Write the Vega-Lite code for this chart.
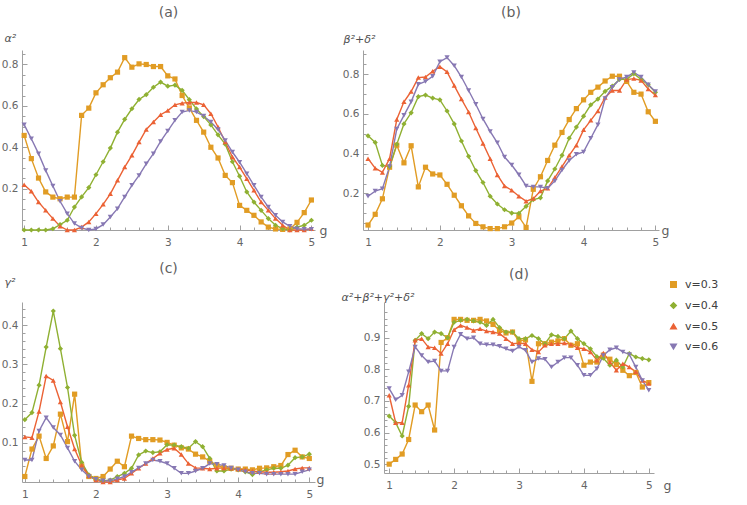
{
  "$schema": "https://vega.github.io/schema/vega-lite/v6.json",
  "background": "white",
  "padding": {"left": 1, "top": 5, "right": 0, "bottom": 0},
  "datasets": {
    "a": [
      {"v":"v=0.3","g":1,"y":0.457},{"v":"v=0.3","g":1.1,"y":0.345},{"v":"v=0.3","g":1.2,"y":0.251},{"v":"v=0.3","g":1.3,"y":0.184},{"v":"v=0.3","g":1.4,"y":0.159},{"v":"v=0.3","g":1.5,"y":0.151},{"v":"v=0.3","g":1.6,"y":0.159},{"v":"v=0.3","g":1.7,"y":0.159},{"v":"v=0.3","g":1.8,"y":0.554},{"v":"v=0.3","g":1.9,"y":0.589},
      {"v":"v=0.3","g":2,"y":0.663},{"v":"v=0.3","g":2.1,"y":0.702},{"v":"v=0.3","g":2.2,"y":0.736},{"v":"v=0.3","g":2.3,"y":0.763},{"v":"v=0.3","g":2.4,"y":0.833},{"v":"v=0.3","g":2.5,"y":0.787},{"v":"v=0.3","g":2.6,"y":0.803},{"v":"v=0.3","g":2.7,"y":0.8},{"v":"v=0.3","g":2.8,"y":0.79},{"v":"v=0.3","g":2.9,"y":0.79},
      {"v":"v=0.3","g":3,"y":0.745},{"v":"v=0.3","g":3.1,"y":0.73},{"v":"v=0.3","g":3.2,"y":0.65},{"v":"v=0.3","g":3.3,"y":0.59},{"v":"v=0.3","g":3.4,"y":0.53},{"v":"v=0.3","g":3.5,"y":0.473},{"v":"v=0.3","g":3.6,"y":0.4},{"v":"v=0.3","g":3.7,"y":0.348},{"v":"v=0.3","g":3.8,"y":0.264},{"v":"v=0.3","g":3.9,"y":0.229},
      {"v":"v=0.3","g":4,"y":0.119},{"v":"v=0.3","g":4.1,"y":0.095},{"v":"v=0.3","g":4.2,"y":0.071},{"v":"v=0.3","g":4.3,"y":0.039},{"v":"v=0.3","g":4.4,"y":0.014},{"v":"v=0.3","g":4.5,"y":0.005},{"v":"v=0.3","g":4.6,"y":0.003},{"v":"v=0.3","g":4.7,"y":0.005},{"v":"v=0.3","g":4.8,"y":0.037},{"v":"v=0.3","g":4.9,"y":0.084},{"v":"v=0.3","g":5,"y":0.145},
      {"v":"v=0.4","g":1,"y":0},{"v":"v=0.4","g":1.1,"y":0},{"v":"v=0.4","g":1.2,"y":0},{"v":"v=0.4","g":1.3,"y":0},{"v":"v=0.4","g":1.4,"y":0.006},{"v":"v=0.4","g":1.5,"y":0.026},{"v":"v=0.4","g":1.6,"y":0.047},{"v":"v=0.4","g":1.7,"y":0.111},{"v":"v=0.4","g":1.8,"y":0.16},{"v":"v=0.4","g":1.9,"y":0.205},
      {"v":"v=0.4","g":2,"y":0.267},{"v":"v=0.4","g":2.1,"y":0.33},{"v":"v=0.4","g":2.2,"y":0.396},{"v":"v=0.4","g":2.3,"y":0.473},{"v":"v=0.4","g":2.4,"y":0.535},{"v":"v=0.4","g":2.5,"y":0.586},{"v":"v=0.4","g":2.6,"y":0.631},{"v":"v=0.4","g":2.7,"y":0.654},{"v":"v=0.4","g":2.8,"y":0.69},{"v":"v=0.4","g":2.9,"y":0.715},
      {"v":"v=0.4","g":3,"y":0.695},{"v":"v=0.4","g":3.1,"y":0.7},{"v":"v=0.4","g":3.2,"y":0.675},{"v":"v=0.4","g":3.3,"y":0.63},{"v":"v=0.4","g":3.4,"y":0.585},{"v":"v=0.4","g":3.5,"y":0.548},{"v":"v=0.4","g":3.6,"y":0.508},{"v":"v=0.4","g":3.7,"y":0.46},{"v":"v=0.4","g":3.8,"y":0.415},{"v":"v=0.4","g":3.9,"y":0.33},
      {"v":"v=0.4","g":4,"y":0.26},{"v":"v=0.4","g":4.1,"y":0.184},{"v":"v=0.4","g":4.2,"y":0.135},{"v":"v=0.4","g":4.3,"y":0.095},{"v":"v=0.4","g":4.4,"y":0.055},{"v":"v=0.4","g":4.5,"y":0.023},{"v":"v=0.4","g":4.6,"y":0.006},{"v":"v=0.4","g":4.7,"y":0},{"v":"v=0.4","g":4.8,"y":0.014},{"v":"v=0.4","g":4.9,"y":0.023},{"v":"v=0.4","g":5,"y":0.047},
      {"v":"v=0.5","g":1,"y":0.219},{"v":"v=0.5","g":1.1,"y":0.187},{"v":"v=0.5","g":1.2,"y":0.135},{"v":"v=0.5","g":1.3,"y":0.095},{"v":"v=0.5","g":1.4,"y":0.055},{"v":"v=0.5","g":1.5,"y":0.018},{"v":"v=0.5","g":1.6,"y":0},{"v":"v=0.5","g":1.7,"y":0},{"v":"v=0.5","g":1.8,"y":0.014},{"v":"v=0.5","g":1.9,"y":0.039},
      {"v":"v=0.5","g":2,"y":0.079},{"v":"v=0.5","g":2.1,"y":0.124},{"v":"v=0.5","g":2.2,"y":0.175},{"v":"v=0.5","g":2.3,"y":0.24},{"v":"v=0.5","g":2.4,"y":0.304},{"v":"v=0.5","g":2.5,"y":0.361},{"v":"v=0.5","g":2.6,"y":0.425},{"v":"v=0.5","g":2.7,"y":0.486},{"v":"v=0.5","g":2.8,"y":0.522},{"v":"v=0.5","g":2.9,"y":0.557},
      {"v":"v=0.5","g":3,"y":0.577},{"v":"v=0.5","g":3.1,"y":0.605},{"v":"v=0.5","g":3.2,"y":0.613},{"v":"v=0.5","g":3.3,"y":0.616},{"v":"v=0.5","g":3.4,"y":0.616},{"v":"v=0.5","g":3.5,"y":0.605},{"v":"v=0.5","g":3.6,"y":0.562},{"v":"v=0.5","g":3.7,"y":0.498},{"v":"v=0.5","g":3.8,"y":0.425},{"v":"v=0.5","g":3.9,"y":0.353},
      {"v":"v=0.5","g":4,"y":0.304},{"v":"v=0.5","g":4.1,"y":0.248},{"v":"v=0.5","g":4.2,"y":0.192},{"v":"v=0.5","g":4.3,"y":0.135},{"v":"v=0.5","g":4.4,"y":0.095},{"v":"v=0.5","g":4.5,"y":0.055},{"v":"v=0.5","g":4.6,"y":0.023},{"v":"v=0.5","g":4.7,"y":0},{"v":"v=0.5","g":4.8,"y":0},{"v":"v=0.5","g":4.9,"y":0},{"v":"v=0.5","g":5,"y":0.006},
      {"v":"v=0.6","g":1,"y":0.509},{"v":"v=0.6","g":1.1,"y":0.441},{"v":"v=0.6","g":1.2,"y":0.369},{"v":"v=0.6","g":1.3,"y":0.288},{"v":"v=0.6","g":1.4,"y":0.213},{"v":"v=0.6","g":1.5,"y":0.139},{"v":"v=0.6","g":1.6,"y":0.079},{"v":"v=0.6","g":1.7,"y":0.031},{"v":"v=0.6","g":1.8,"y":0.01},{"v":"v=0.6","g":1.9,"y":0},
      {"v":"v=0.6","g":2,"y":0.005},{"v":"v=0.6","g":2.1,"y":0.026},{"v":"v=0.6","g":2.2,"y":0.063},{"v":"v=0.6","g":2.3,"y":0.103},{"v":"v=0.6","g":2.4,"y":0.16},{"v":"v=0.6","g":2.5,"y":0.216},{"v":"v=0.6","g":2.6,"y":0.264},{"v":"v=0.6","g":2.7,"y":0.32},{"v":"v=0.6","g":2.8,"y":0.369},{"v":"v=0.6","g":2.9,"y":0.428},
      {"v":"v=0.6","g":3,"y":0.479},{"v":"v=0.6","g":3.1,"y":0.53},{"v":"v=0.6","g":3.2,"y":0.57},{"v":"v=0.6","g":3.3,"y":0.578},{"v":"v=0.6","g":3.4,"y":0.57},{"v":"v=0.6","g":3.5,"y":0.551},{"v":"v=0.6","g":3.6,"y":0.522},{"v":"v=0.6","g":3.7,"y":0.486},{"v":"v=0.6","g":3.8,"y":0.433},{"v":"v=0.6","g":3.9,"y":0.377},
      {"v":"v=0.6","g":4,"y":0.328},{"v":"v=0.6","g":4.1,"y":0.272},{"v":"v=0.6","g":4.2,"y":0.216},{"v":"v=0.6","g":4.3,"y":0.16},{"v":"v=0.6","g":4.4,"y":0.111},{"v":"v=0.6","g":4.5,"y":0.071},{"v":"v=0.6","g":4.6,"y":0.039},{"v":"v=0.6","g":4.7,"y":0.018},{"v":"v=0.6","g":4.8,"y":0.006},{"v":"v=0.6","g":4.9,"y":0.004},{"v":"v=0.6","g":5,"y":0.004}
    ],
    "b": [
      {"v":"v=0.3","g":1,"y":0.041},{"v":"v=0.3","g":1.1,"y":0.095},{"v":"v=0.3","g":1.2,"y":0.173},{"v":"v=0.3","g":1.3,"y":0.332},{"v":"v=0.3","g":1.4,"y":0.443},{"v":"v=0.3","g":1.5,"y":0.354},{"v":"v=0.3","g":1.6,"y":0.44},{"v":"v=0.3","g":1.7,"y":0.233},{"v":"v=0.3","g":1.8,"y":0.332},{"v":"v=0.3","g":1.9,"y":0.298},
      {"v":"v=0.3","g":2,"y":0.293},{"v":"v=0.3","g":2.1,"y":0.246},{"v":"v=0.3","g":2.2,"y":0.191},{"v":"v=0.3","g":2.3,"y":0.138},{"v":"v=0.3","g":2.4,"y":0.087},{"v":"v=0.3","g":2.5,"y":0.049},{"v":"v=0.3","g":2.6,"y":0.032},{"v":"v=0.3","g":2.7,"y":0.023},{"v":"v=0.3","g":2.8,"y":0.023},{"v":"v=0.3","g":2.9,"y":0.032},
      {"v":"v=0.3","g":3,"y":0.051},{"v":"v=0.3","g":3.1,"y":0.083},{"v":"v=0.3","g":3.2,"y":0.029},{"v":"v=0.3","g":3.3,"y":0.221},{"v":"v=0.3","g":3.4,"y":0.284},{"v":"v=0.3","g":3.5,"y":0.366},{"v":"v=0.3","g":3.6,"y":0.443},{"v":"v=0.3","g":3.7,"y":0.507},{"v":"v=0.3","g":3.8,"y":0.572},{"v":"v=0.3","g":3.9,"y":0.627},
      {"v":"v=0.3","g":4,"y":0.671},{"v":"v=0.3","g":4.1,"y":0.709},{"v":"v=0.3","g":4.2,"y":0.735},{"v":"v=0.3","g":4.3,"y":0.766},{"v":"v=0.3","g":4.4,"y":0.79},{"v":"v=0.3","g":4.5,"y":0.79},{"v":"v=0.3","g":4.6,"y":0.764},{"v":"v=0.3","g":4.7,"y":0.709},{"v":"v=0.3","g":4.8,"y":0.7},{"v":"v=0.3","g":4.9,"y":0.611},{"v":"v=0.3","g":5,"y":0.563},
      {"v":"v=0.4","g":1,"y":0.49},{"v":"v=0.4","g":1.1,"y":0.457},{"v":"v=0.4","g":1.2,"y":0.341},{"v":"v=0.4","g":1.3,"y":0.335},{"v":"v=0.4","g":1.4,"y":0.447},{"v":"v=0.4","g":1.5,"y":0.55},{"v":"v=0.4","g":1.6,"y":0.606},{"v":"v=0.4","g":1.7,"y":0.687},{"v":"v=0.4","g":1.8,"y":0.695},{"v":"v=0.4","g":1.9,"y":0.68},
      {"v":"v=0.4","g":2,"y":0.671},{"v":"v=0.4","g":2.1,"y":0.615},{"v":"v=0.4","g":2.2,"y":0.55},{"v":"v=0.4","g":2.3,"y":0.464},{"v":"v=0.4","g":2.4,"y":0.387},{"v":"v=0.4","g":2.5,"y":0.315},{"v":"v=0.4","g":2.6,"y":0.255},{"v":"v=0.4","g":2.7,"y":0.186},{"v":"v=0.4","g":2.8,"y":0.147},{"v":"v=0.4","g":2.9,"y":0.118},
      {"v":"v=0.4","g":3,"y":0.101},{"v":"v=0.4","g":3.1,"y":0.1},{"v":"v=0.4","g":3.2,"y":0.135},{"v":"v=0.4","g":3.3,"y":0.169},{"v":"v=0.4","g":3.4,"y":0.178},{"v":"v=0.4","g":3.5,"y":0.263},{"v":"v=0.4","g":3.6,"y":0.323},{"v":"v=0.4","g":3.7,"y":0.392},{"v":"v=0.4","g":3.8,"y":0.478},{"v":"v=0.4","g":3.9,"y":0.534},
      {"v":"v=0.4","g":4,"y":0.589},{"v":"v=0.4","g":4.1,"y":0.646},{"v":"v=0.4","g":4.2,"y":0.675},{"v":"v=0.4","g":4.3,"y":0.714},{"v":"v=0.4","g":4.4,"y":0.74},{"v":"v=0.4","g":4.5,"y":0.774},{"v":"v=0.4","g":4.6,"y":0.774},{"v":"v=0.4","g":4.7,"y":0.803},{"v":"v=0.4","g":4.8,"y":0.774},{"v":"v=0.4","g":4.9,"y":0.747},{"v":"v=0.4","g":5,"y":0.709},
      {"v":"v=0.5","g":1,"y":0.375},{"v":"v=0.5","g":1.1,"y":0.327},{"v":"v=0.5","g":1.2,"y":0.306},{"v":"v=0.5","g":1.3,"y":0.375},{"v":"v=0.5","g":1.4,"y":0.572},{"v":"v=0.5","g":1.5,"y":0.661},{"v":"v=0.5","g":1.6,"y":0.713},{"v":"v=0.5","g":1.7,"y":0.783},{"v":"v=0.5","g":1.8,"y":0.786},{"v":"v=0.5","g":1.9,"y":0.815},
      {"v":"v=0.5","g":2,"y":0.838},{"v":"v=0.5","g":2.1,"y":0.812},{"v":"v=0.5","g":2.2,"y":0.743},{"v":"v=0.5","g":2.3,"y":0.675},{"v":"v=0.5","g":2.4,"y":0.61},{"v":"v=0.5","g":2.5,"y":0.529},{"v":"v=0.5","g":2.6,"y":0.452},{"v":"v=0.5","g":2.7,"y":0.375},{"v":"v=0.5","g":2.8,"y":0.293},{"v":"v=0.5","g":2.9,"y":0.238},
      {"v":"v=0.5","g":3,"y":0.216},{"v":"v=0.5","g":3.1,"y":0.186},{"v":"v=0.5","g":3.2,"y":0.161},{"v":"v=0.5","g":3.3,"y":0.174},{"v":"v=0.5","g":3.4,"y":0.212},{"v":"v=0.5","g":3.5,"y":0.226},{"v":"v=0.5","g":3.6,"y":0.28},{"v":"v=0.5","g":3.7,"y":0.335},{"v":"v=0.5","g":3.8,"y":0.392},{"v":"v=0.5","g":3.9,"y":0.443},
      {"v":"v=0.5","g":4,"y":0.52},{"v":"v=0.5","g":4.1,"y":0.568},{"v":"v=0.5","g":4.2,"y":0.615},{"v":"v=0.5","g":4.3,"y":0.683},{"v":"v=0.5","g":4.4,"y":0.718},{"v":"v=0.5","g":4.5,"y":0.718},{"v":"v=0.5","g":4.6,"y":0.773},{"v":"v=0.5","g":4.7,"y":0.778},{"v":"v=0.5","g":4.8,"y":0.769},{"v":"v=0.5","g":4.9,"y":0.726},{"v":"v=0.5","g":5,"y":0.695},
      {"v":"v=0.6","g":1,"y":0.186},{"v":"v=0.6","g":1.1,"y":0.212},{"v":"v=0.6","g":1.2,"y":0.224},{"v":"v=0.6","g":1.3,"y":0.335},{"v":"v=0.6","g":1.4,"y":0.524},{"v":"v=0.6","g":1.5,"y":0.593},{"v":"v=0.6","g":1.6,"y":0.661},{"v":"v=0.6","g":1.7,"y":0.749},{"v":"v=0.6","g":1.8,"y":0.764},{"v":"v=0.6","g":1.9,"y":0.79},
      {"v":"v=0.6","g":2,"y":0.863},{"v":"v=0.6","g":2.1,"y":0.884},{"v":"v=0.6","g":2.2,"y":0.843},{"v":"v=0.6","g":2.3,"y":0.786},{"v":"v=0.6","g":2.4,"y":0.718},{"v":"v=0.6","g":2.5,"y":0.649},{"v":"v=0.6","g":2.6,"y":0.575},{"v":"v=0.6","g":2.7,"y":0.512},{"v":"v=0.6","g":2.8,"y":0.455},{"v":"v=0.6","g":2.9,"y":0.383},
      {"v":"v=0.6","g":3,"y":0.343},{"v":"v=0.6","g":3.1,"y":0.294},{"v":"v=0.6","g":3.2,"y":0.238},{"v":"v=0.6","g":3.3,"y":0.233},{"v":"v=0.6","g":3.4,"y":0.233},{"v":"v=0.6","g":3.5,"y":0.226},{"v":"v=0.6","g":3.6,"y":0.263},{"v":"v=0.6","g":3.7,"y":0.318},{"v":"v=0.6","g":3.8,"y":0.366},{"v":"v=0.6","g":3.9,"y":0.397},
      {"v":"v=0.6","g":4,"y":0.409},{"v":"v=0.6","g":4.1,"y":0.478},{"v":"v=0.6","g":4.2,"y":0.546},{"v":"v=0.6","g":4.3,"y":0.678},{"v":"v=0.6","g":4.4,"y":0.735},{"v":"v=0.6","g":4.5,"y":0.774},{"v":"v=0.6","g":4.6,"y":0.786},{"v":"v=0.6","g":4.7,"y":0.809},{"v":"v=0.6","g":4.8,"y":0.786},{"v":"v=0.6","g":4.9,"y":0.747},{"v":"v=0.6","g":5,"y":0.713}
    ],
    "c": [
      {"v":"v=0.3","g":1,"y":0.014},{"v":"v=0.3","g":1.1,"y":0.084},{"v":"v=0.3","g":1.2,"y":0.117},{"v":"v=0.3","g":1.3,"y":0.06},{"v":"v=0.3","g":1.4,"y":0.092},{"v":"v=0.3","g":1.5,"y":0.173},{"v":"v=0.3","g":1.6,"y":0.103},{"v":"v=0.3","g":1.7,"y":0.224},{"v":"v=0.3","g":1.8,"y":0.041},{"v":"v=0.3","g":1.9,"y":0.014},
      {"v":"v=0.3","g":2,"y":0.009},{"v":"v=0.3","g":2.1,"y":0.014},{"v":"v=0.3","g":2.2,"y":0.033},{"v":"v=0.3","g":2.3,"y":0.053},{"v":"v=0.3","g":2.4,"y":0.039},{"v":"v=0.3","g":2.5,"y":0.117},{"v":"v=0.3","g":2.6,"y":0.111},{"v":"v=0.3","g":2.7,"y":0.108},{"v":"v=0.3","g":2.8,"y":0.108},{"v":"v=0.3","g":2.9,"y":0.107},
      {"v":"v=0.3","g":3,"y":0.101},{"v":"v=0.3","g":3.1,"y":0.094},{"v":"v=0.3","g":3.2,"y":0.087},{"v":"v=0.3","g":3.3,"y":0.084},{"v":"v=0.3","g":3.4,"y":0.071},{"v":"v=0.3","g":3.5,"y":0.064},{"v":"v=0.3","g":3.6,"y":0.053},{"v":"v=0.3","g":3.7,"y":0.043},{"v":"v=0.3","g":3.8,"y":0.036},{"v":"v=0.3","g":3.9,"y":0.035},
      {"v":"v=0.3","g":4,"y":0.033},{"v":"v=0.3","g":4.1,"y":0.033},{"v":"v=0.3","g":4.2,"y":0.031},{"v":"v=0.3","g":4.3,"y":0.035},{"v":"v=0.3","g":4.4,"y":0.036},{"v":"v=0.3","g":4.5,"y":0.039},{"v":"v=0.3","g":4.6,"y":0.042},{"v":"v=0.3","g":4.7,"y":0.07},{"v":"v=0.3","g":4.8,"y":0.081},{"v":"v=0.3","g":4.9,"y":0.064},{"v":"v=0.3","g":5,"y":0.06},
      {"v":"v=0.4","g":1,"y":0.159},{"v":"v=0.4","g":1.1,"y":0.177},{"v":"v=0.4","g":1.2,"y":0.247},{"v":"v=0.4","g":1.3,"y":0.344},{"v":"v=0.4","g":1.4,"y":0.436},{"v":"v=0.4","g":1.5,"y":0.34},{"v":"v=0.4","g":1.6,"y":0.241},{"v":"v=0.4","g":1.7,"y":0.119},{"v":"v=0.4","g":1.8,"y":0.05},{"v":"v=0.4","g":1.9,"y":0.018},
      {"v":"v=0.4","g":2,"y":0.008},{"v":"v=0.4","g":2.1,"y":0.003},{"v":"v=0.4","g":2.2,"y":0.005},{"v":"v=0.4","g":2.3,"y":0.014},{"v":"v=0.4","g":2.4,"y":0.022},{"v":"v=0.4","g":2.5,"y":0.035},{"v":"v=0.4","g":2.6,"y":0.069},{"v":"v=0.4","g":2.7,"y":0.079},{"v":"v=0.4","g":2.8,"y":0.075},{"v":"v=0.4","g":2.9,"y":0.077},
      {"v":"v=0.4","g":3,"y":0.095},{"v":"v=0.4","g":3.1,"y":0.094},{"v":"v=0.4","g":3.2,"y":0.09},{"v":"v=0.4","g":3.3,"y":0.086},{"v":"v=0.4","g":3.4,"y":0.103},{"v":"v=0.4","g":3.5,"y":0.09},{"v":"v=0.4","g":3.6,"y":0.06},{"v":"v=0.4","g":3.7,"y":0.028},{"v":"v=0.4","g":3.8,"y":0.028},{"v":"v=0.4","g":3.9,"y":0.033},
      {"v":"v=0.4","g":4,"y":0.031},{"v":"v=0.4","g":4.1,"y":0.026},{"v":"v=0.4","g":4.2,"y":0.019},{"v":"v=0.4","g":4.3,"y":0.026},{"v":"v=0.4","g":4.4,"y":0.031},{"v":"v=0.4","g":4.5,"y":0.035},{"v":"v=0.4","g":4.6,"y":0.035},{"v":"v=0.4","g":4.7,"y":0.043},{"v":"v=0.4","g":4.8,"y":0.062},{"v":"v=0.4","g":4.9,"y":0.064},{"v":"v=0.4","g":5,"y":0.071},
      {"v":"v=0.5","g":1,"y":0.115},{"v":"v=0.5","g":1.1,"y":0.113},{"v":"v=0.5","g":1.2,"y":0.18},{"v":"v=0.5","g":1.3,"y":0.27},{"v":"v=0.5","g":1.4,"y":0.259},{"v":"v=0.5","g":1.5,"y":0.204},{"v":"v=0.5","g":1.6,"y":0.141},{"v":"v=0.5","g":1.7,"y":0.084},{"v":"v=0.5","g":1.8,"y":0.043},{"v":"v=0.5","g":1.9,"y":0.016},
      {"v":"v=0.5","g":2,"y":0.005},{"v":"v=0.5","g":2.1,"y":0},{"v":"v=0.5","g":2.2,"y":0},{"v":"v=0.5","g":2.3,"y":0.005},{"v":"v=0.5","g":2.4,"y":0.009},{"v":"v=0.5","g":2.5,"y":0.022},{"v":"v=0.5","g":2.6,"y":0.035},{"v":"v=0.5","g":2.7,"y":0.047},{"v":"v=0.5","g":2.8,"y":0.06},{"v":"v=0.5","g":2.9,"y":0.073},
      {"v":"v=0.5","g":3,"y":0.083},{"v":"v=0.5","g":3.1,"y":0.086},{"v":"v=0.5","g":3.2,"y":0.07},{"v":"v=0.5","g":3.3,"y":0.047},{"v":"v=0.5","g":3.4,"y":0.036},{"v":"v=0.5","g":3.5,"y":0.035},{"v":"v=0.5","g":3.6,"y":0.033},{"v":"v=0.5","g":3.7,"y":0.035},{"v":"v=0.5","g":3.8,"y":0.036},{"v":"v=0.5","g":3.9,"y":0.035},
      {"v":"v=0.5","g":4,"y":0.033},{"v":"v=0.5","g":4.1,"y":0.031},{"v":"v=0.5","g":4.2,"y":0.028},{"v":"v=0.5","g":4.3,"y":0.026},{"v":"v=0.5","g":4.4,"y":0.025},{"v":"v=0.5","g":4.5,"y":0.025},{"v":"v=0.5","g":4.6,"y":0.026},{"v":"v=0.5","g":4.7,"y":0.028},{"v":"v=0.5","g":4.8,"y":0.033},{"v":"v=0.5","g":4.9,"y":0.036},{"v":"v=0.5","g":5,"y":0.036},
      {"v":"v=0.6","g":1,"y":0.056},{"v":"v=0.6","g":1.1,"y":0.056},{"v":"v=0.6","g":1.2,"y":0.13},{"v":"v=0.6","g":1.3,"y":0.164},{"v":"v=0.6","g":1.4,"y":0.139},{"v":"v=0.6","g":1.5,"y":0.12},{"v":"v=0.6","g":1.6,"y":0.087},{"v":"v=0.6","g":1.7,"y":0.053},{"v":"v=0.6","g":1.8,"y":0.031},{"v":"v=0.6","g":1.9,"y":0.014},
      {"v":"v=0.6","g":2,"y":0.007},{"v":"v=0.6","g":2.1,"y":0.003},{"v":"v=0.6","g":2.2,"y":0.003},{"v":"v=0.6","g":2.3,"y":0.008},{"v":"v=0.6","g":2.4,"y":0.014},{"v":"v=0.6","g":2.5,"y":0.025},{"v":"v=0.6","g":2.6,"y":0.036},{"v":"v=0.6","g":2.7,"y":0.047},{"v":"v=0.6","g":2.8,"y":0.056},{"v":"v=0.6","g":2.9,"y":0.053},
      {"v":"v=0.6","g":3,"y":0.047},{"v":"v=0.6","g":3.1,"y":0.035},{"v":"v=0.6","g":3.2,"y":0.022},{"v":"v=0.6","g":3.3,"y":0.022},{"v":"v=0.6","g":3.4,"y":0.028},{"v":"v=0.6","g":3.5,"y":0.035},{"v":"v=0.6","g":3.6,"y":0.047},{"v":"v=0.6","g":3.7,"y":0.045},{"v":"v=0.6","g":3.8,"y":0.042},{"v":"v=0.6","g":3.9,"y":0.036},
      {"v":"v=0.6","g":4,"y":0.031},{"v":"v=0.6","g":4.1,"y":0.026},{"v":"v=0.6","g":4.2,"y":0.022},{"v":"v=0.6","g":4.3,"y":0.022},{"v":"v=0.6","g":4.4,"y":0.02},{"v":"v=0.6","g":4.5,"y":0.02},{"v":"v=0.6","g":4.6,"y":0.02},{"v":"v=0.6","g":4.7,"y":0.02},{"v":"v=0.6","g":4.8,"y":0.02},{"v":"v=0.6","g":4.9,"y":0.026},{"v":"v=0.6","g":5,"y":0.031}
    ],
    "d": [
      {"v":"v=0.3","g":1,"y":0.5},{"v":"v=0.3","g":1.1,"y":0.515},{"v":"v=0.3","g":1.2,"y":0.532},{"v":"v=0.3","g":1.3,"y":0.578},{"v":"v=0.3","g":1.4,"y":0.687},{"v":"v=0.3","g":1.5,"y":0.666},{"v":"v=0.3","g":1.6,"y":0.687},{"v":"v=0.3","g":1.7,"y":0.608},{"v":"v=0.3","g":1.8,"y":0.885},{"v":"v=0.3","g":1.9,"y":0.9},
      {"v":"v=0.3","g":2,"y":0.958},{"v":"v=0.3","g":2.1,"y":0.958},{"v":"v=0.3","g":2.2,"y":0.955},{"v":"v=0.3","g":2.3,"y":0.955},{"v":"v=0.3","g":2.4,"y":0.958},{"v":"v=0.3","g":2.5,"y":0.953},{"v":"v=0.3","g":2.6,"y":0.942},{"v":"v=0.3","g":2.7,"y":0.923},{"v":"v=0.3","g":2.8,"y":0.915},{"v":"v=0.3","g":2.9,"y":0.918},
      {"v":"v=0.3","g":3,"y":0.89},{"v":"v=0.3","g":3.1,"y":0.893},{"v":"v=0.3","g":3.2,"y":0.762},{"v":"v=0.3","g":3.3,"y":0.881},{"v":"v=0.3","g":3.4,"y":0.881},{"v":"v=0.3","g":3.5,"y":0.886},{"v":"v=0.3","g":3.6,"y":0.89},{"v":"v=0.3","g":3.7,"y":0.897},{"v":"v=0.3","g":3.8,"y":0.876},{"v":"v=0.3","g":3.9,"y":0.881},
      {"v":"v=0.3","g":4,"y":0.813},{"v":"v=0.3","g":4.1,"y":0.823},{"v":"v=0.3","g":4.2,"y":0.823},{"v":"v=0.3","g":4.3,"y":0.845},{"v":"v=0.3","g":4.4,"y":0.832},{"v":"v=0.3","g":4.5,"y":0.815},{"v":"v=0.3","g":4.6,"y":0.797},{"v":"v=0.3","g":4.7,"y":0.78},{"v":"v=0.3","g":4.8,"y":0.79},{"v":"v=0.3","g":4.9,"y":0.744},{"v":"v=0.3","g":5,"y":0.758},
      {"v":"v=0.4","g":1,"y":0.652},{"v":"v=0.4","g":1.1,"y":0.631},{"v":"v=0.4","g":1.2,"y":0.589},{"v":"v=0.4","g":1.3,"y":0.683},{"v":"v=0.4","g":1.4,"y":0.892},{"v":"v=0.4","g":1.5,"y":0.913},{"v":"v=0.4","g":1.6,"y":0.897},{"v":"v=0.4","g":1.7,"y":0.918},{"v":"v=0.4","g":1.8,"y":0.913},{"v":"v=0.4","g":1.9,"y":0.9},
      {"v":"v=0.4","g":2,"y":0.949},{"v":"v=0.4","g":2.1,"y":0.955},{"v":"v=0.4","g":2.2,"y":0.958},{"v":"v=0.4","g":2.3,"y":0.953},{"v":"v=0.4","g":2.4,"y":0.949},{"v":"v=0.4","g":2.5,"y":0.939},{"v":"v=0.4","g":2.6,"y":0.958},{"v":"v=0.4","g":2.7,"y":0.932},{"v":"v=0.4","g":2.8,"y":0.918},{"v":"v=0.4","g":2.9,"y":0.918},
      {"v":"v=0.4","g":3,"y":0.897},{"v":"v=0.4","g":3.1,"y":0.897},{"v":"v=0.4","g":3.2,"y":0.907},{"v":"v=0.4","g":3.3,"y":0.897},{"v":"v=0.4","g":3.4,"y":0.881},{"v":"v=0.4","g":3.5,"y":0.909},{"v":"v=0.4","g":3.6,"y":0.904},{"v":"v=0.4","g":3.7,"y":0.897},{"v":"v=0.4","g":3.8,"y":0.921},{"v":"v=0.4","g":3.9,"y":0.897},
      {"v":"v=0.4","g":4,"y":0.881},{"v":"v=0.4","g":4.1,"y":0.865},{"v":"v=0.4","g":4.2,"y":0.84},{"v":"v=0.4","g":4.3,"y":0.835},{"v":"v=0.4","g":4.4,"y":0.813},{"v":"v=0.4","g":4.5,"y":0.829},{"v":"v=0.4","g":4.6,"y":0.807},{"v":"v=0.4","g":4.7,"y":0.85},{"v":"v=0.4","g":4.8,"y":0.839},{"v":"v=0.4","g":4.9,"y":0.834},{"v":"v=0.4","g":5,"y":0.83},
      {"v":"v=0.5","g":1,"y":0.718},{"v":"v=0.5","g":1.1,"y":0.631},{"v":"v=0.5","g":1.2,"y":0.631},{"v":"v=0.5","g":1.3,"y":0.75},{"v":"v=0.5","g":1.4,"y":0.892},{"v":"v=0.5","g":1.5,"y":0.897},{"v":"v=0.5","g":1.6,"y":0.871},{"v":"v=0.5","g":1.7,"y":0.868},{"v":"v=0.5","g":1.8,"y":0.85},{"v":"v=0.5","g":1.9,"y":0.881},
      {"v":"v=0.5","g":2,"y":0.925},{"v":"v=0.5","g":2.1,"y":0.939},{"v":"v=0.5","g":2.2,"y":0.932},{"v":"v=0.5","g":2.3,"y":0.923},{"v":"v=0.5","g":2.4,"y":0.928},{"v":"v=0.5","g":2.5,"y":0.921},{"v":"v=0.5","g":2.6,"y":0.918},{"v":"v=0.5","g":2.7,"y":0.913},{"v":"v=0.5","g":2.8,"y":0.897},{"v":"v=0.5","g":2.9,"y":0.881},
      {"v":"v=0.5","g":3,"y":0.883},{"v":"v=0.5","g":3.1,"y":0.881},{"v":"v=0.5","g":3.2,"y":0.862},{"v":"v=0.5","g":3.3,"y":0.855},{"v":"v=0.5","g":3.4,"y":0.876},{"v":"v=0.5","g":3.5,"y":0.881},{"v":"v=0.5","g":3.6,"y":0.881},{"v":"v=0.5","g":3.7,"y":0.883},{"v":"v=0.5","g":3.8,"y":0.879},{"v":"v=0.5","g":3.9,"y":0.868},
      {"v":"v=0.5","g":4,"y":0.865},{"v":"v=0.5","g":4.1,"y":0.855},{"v":"v=0.5","g":4.2,"y":0.829},{"v":"v=0.5","g":4.3,"y":0.852},{"v":"v=0.5","g":4.4,"y":0.823},{"v":"v=0.5","g":4.5,"y":0.797},{"v":"v=0.5","g":4.6,"y":0.818},{"v":"v=0.5","g":4.7,"y":0.807},{"v":"v=0.5","g":4.8,"y":0.792},{"v":"v=0.5","g":4.9,"y":0.765},{"v":"v=0.5","g":5,"y":0.755},
      {"v":"v=0.6","g":1,"y":0.739},{"v":"v=0.6","g":1.1,"y":0.704},{"v":"v=0.6","g":1.2,"y":0.718},{"v":"v=0.6","g":1.3,"y":0.792},{"v":"v=0.6","g":1.4,"y":0.871},{"v":"v=0.6","g":1.5,"y":0.844},{"v":"v=0.6","g":1.6,"y":0.823},{"v":"v=0.6","g":1.7,"y":0.826},{"v":"v=0.6","g":1.8,"y":0.795},{"v":"v=0.6","g":1.9,"y":0.795},
      {"v":"v=0.6","g":2,"y":0.871},{"v":"v=0.6","g":2.1,"y":0.911},{"v":"v=0.6","g":2.2,"y":0.897},{"v":"v=0.6","g":2.3,"y":0.9},{"v":"v=0.6","g":2.4,"y":0.881},{"v":"v=0.6","g":2.5,"y":0.878},{"v":"v=0.6","g":2.6,"y":0.878},{"v":"v=0.6","g":2.7,"y":0.873},{"v":"v=0.6","g":2.8,"y":0.865},{"v":"v=0.6","g":2.9,"y":0.858},
      {"v":"v=0.6","g":3,"y":0.871},{"v":"v=0.6","g":3.1,"y":0.86},{"v":"v=0.6","g":3.2,"y":0.823},{"v":"v=0.6","g":3.3,"y":0.834},{"v":"v=0.6","g":3.4,"y":0.832},{"v":"v=0.6","g":3.5,"y":0.807},{"v":"v=0.6","g":3.6,"y":0.823},{"v":"v=0.6","g":3.7,"y":0.837},{"v":"v=0.6","g":3.8,"y":0.837},{"v":"v=0.6","g":3.9,"y":0.813},
      {"v":"v=0.6","g":4,"y":0.781},{"v":"v=0.6","g":4.1,"y":0.781},{"v":"v=0.6","g":4.2,"y":0.802},{"v":"v=0.6","g":4.3,"y":0.844},{"v":"v=0.6","g":4.4,"y":0.862},{"v":"v=0.6","g":4.5,"y":0.868},{"v":"v=0.6","g":4.6,"y":0.855},{"v":"v=0.6","g":4.7,"y":0.847},{"v":"v=0.6","g":4.8,"y":0.807},{"v":"v=0.6","g":4.9,"y":0.765},{"v":"v=0.6","g":5,"y":0.734}
    ]
  },
  "spacing": 14,
  "vconcat": [
    {
      "spacing": 15,
      "resolve": {"scale": {"x": "independent", "y": "independent", "color": "shared", "shape": "shared"}},
      "hconcat": [
        {
          "title": {"text": "(a)", "offset": 12.5},
          "width": 293,
          "height": 180,
          "data": {"name": "a"},
          "encoding": {
            "x": {"field": "g", "type": "quantitative", "scale": {"domain": [0.97, 5.05], "nice": false, "zero": false},
              "axis": {"title": "g", "titleX": 301, "titleY": 0, "titleAlign": "center", "titleBaseline": "middle",
                "values": [1,1.2,1.4,1.6,1.8,2,2.2,2.4,2.6,2.8,3,3.2,3.4,3.6,3.8,4,4.2,4.4,4.6,4.8,5], "format": ".0f",
                "labelExpr": "datum.value % 1 == 0 ? datum.label : ''",
                "tickSize": {"condition": {"test": "datum.value % 1 == 0", "value": -5}, "value": -3}}},
            "y": {"field": "y", "type": "quantitative", "scale": {"domain": [0, 0.87], "nice": false},
              "axis": {"title": "α²", "titleAngle": 0, "titleX": -18, "titleY": -12, "titleAlign": "left", "titleBaseline": "middle", "titleFontStyle": "italic",
                "values": [0.05,0.1,0.15,0.2,0.25,0.3,0.35,0.4,0.45,0.5,0.55,0.6,0.65,0.7,0.75,0.8,0.85], "format": ".1f",
                "labelExpr": "abs(datum.value*5-round(datum.value*5)) < 0.000001 ? datum.label : ''",
                "tickSize": {"condition": {"test": "abs(datum.value*5-round(datum.value*5)) < 0.000001", "value": -5}, "value": -3}}},
            "color": {"field": "v", "type": "nominal", "scale": {"domain": ["v=0.3","v=0.4","v=0.5","v=0.6"], "range": ["#E19C24","#8FB032","#EB6235","#8778B3"]}, "legend": {"title": null}}
          },
          "layer": [
            {"mark": {"type": "line", "strokeWidth": 1.4}},
            {"mark": {"type": "point", "filled": true, "size": 27, "opacity": 1},
              "encoding": {"shape": {"field": "v", "type": "nominal", "scale": {"domain": ["v=0.3","v=0.4","v=0.5","v=0.6"], "range": ["square","diamond","triangle-up","triangle-down"]}, "legend": {"title": null}}}}
          ]
        },
        {
          "title": {"text": "(b)", "offset": 13.5},
          "width": 296,
          "height": 180,
          "data": {"name": "b"},
          "encoding": {
            "x": {"field": "g", "type": "quantitative", "scale": {"domain": [0.93, 5.05], "nice": false, "zero": false},
              "axis": {"title": "g", "titleX": 302, "titleY": 0, "titleAlign": "center", "titleBaseline": "middle",
                "values": [1,1.2,1.4,1.6,1.8,2,2.2,2.4,2.6,2.8,3,3.2,3.4,3.6,3.8,4,4.2,4.4,4.6,4.8,5], "format": ".0f",
                "labelExpr": "datum.value % 1 == 0 ? datum.label : ''",
                "tickSize": {"condition": {"test": "datum.value % 1 == 0", "value": -5}, "value": -3}}},
            "y": {"field": "y", "type": "quantitative", "scale": {"domain": [0.016, 0.922], "nice": false, "zero": false},
              "axis": {"title": "β²+δ²", "titleAngle": 0, "titleX": -20, "titleY": -11, "titleAlign": "left", "titleBaseline": "middle", "titleFontStyle": "italic",
                "values": [0.05,0.1,0.15,0.2,0.25,0.3,0.35,0.4,0.45,0.5,0.55,0.6,0.65,0.7,0.75,0.8,0.85,0.9], "format": ".1f",
                "labelExpr": "abs(datum.value*5-round(datum.value*5)) < 0.000001 ? datum.label : ''",
                "tickSize": {"condition": {"test": "abs(datum.value*5-round(datum.value*5)) < 0.000001", "value": -5}, "value": -3}}},
            "color": {"field": "v", "type": "nominal", "scale": {"domain": ["v=0.3","v=0.4","v=0.5","v=0.6"], "range": ["#E19C24","#8FB032","#EB6235","#8778B3"]}, "legend": {"title": null}}
          },
          "layer": [
            {"mark": {"type": "line", "strokeWidth": 1.4}},
            {"mark": {"type": "point", "filled": true, "size": 27, "opacity": 1},
              "encoding": {"shape": {"field": "v", "type": "nominal", "scale": {"domain": ["v=0.3","v=0.4","v=0.5","v=0.6"], "range": ["square","diamond","triangle-up","triangle-down"]}, "legend": {"title": null}}}}
          ]
        }
      ]
    },
    {
      "spacing": 17,
      "resolve": {"scale": {"x": "independent", "y": "independent", "color": "shared", "shape": "shared"}},
      "hconcat": [
        {
          "title": {"text": "(c)", "offset": 0},
          "width": 293,
          "height": 180,
          "data": {"name": "c"},
          "encoding": {
            "x": {"field": "g", "type": "quantitative", "scale": {"domain": [0.96, 5.08], "nice": false, "zero": false},
              "axis": {"title": "g", "titleX": 298, "titleY": -3, "titleAlign": "center", "titleBaseline": "middle",
                "values": [1,1.2,1.4,1.6,1.8,2,2.2,2.4,2.6,2.8,3,3.2,3.4,3.6,3.8,4,4.2,4.4,4.6,4.8,5], "format": ".0f",
                "labelExpr": "datum.value % 1 == 0 ? datum.label : ''",
                "tickSize": {"condition": {"test": "datum.value % 1 == 0", "value": -5}, "value": -3}}},
            "y": {"field": "y", "type": "quantitative", "scale": {"domain": [0, 0.459], "nice": false},
              "axis": {"title": "γ²", "titleAngle": 0, "titleX": -18, "titleY": -20, "titleAlign": "left", "titleBaseline": "middle", "titleFontStyle": "italic",
                "values": [0.02,0.04,0.06,0.08,0.1,0.12,0.14,0.16,0.18,0.2,0.22,0.24,0.26,0.28,0.3,0.32,0.34,0.36,0.38,0.4,0.42,0.44], "format": ".1f",
                "labelExpr": "abs(datum.value*10-round(datum.value*10)) < 0.000001 ? datum.label : ''",
                "tickSize": {"condition": {"test": "abs(datum.value*10-round(datum.value*10)) < 0.000001", "value": -5}, "value": -3}}},
            "color": {"field": "v", "type": "nominal", "scale": {"domain": ["v=0.3","v=0.4","v=0.5","v=0.6"], "range": ["#E19C24","#8FB032","#EB6235","#8778B3"]}, "legend": {"title": null}}
          },
          "layer": [
            {"mark": {"type": "line", "strokeWidth": 1.4}},
            {"mark": {"type": "point", "filled": true, "size": 27, "opacity": 1},
              "encoding": {"shape": {"field": "v", "type": "nominal", "scale": {"domain": ["v=0.3","v=0.4","v=0.5","v=0.6"], "range": ["square","diamond","triangle-up","triangle-down"]}, "legend": {"title": null}}}}
          ]
        },
        {
          "title": {"text": "(d)", "frame": "group", "offset": 9.5},
          "width": 270,
          "height": 171,
          "data": {"name": "d"},
          "encoding": {
            "x": {"field": "g", "type": "quantitative", "scale": {"domain": [0.92, 5.08], "nice": false, "zero": false},
              "axis": {"title": "g", "titleX": 283, "titleY": 12, "titleAlign": "center", "titleBaseline": "middle",
                "values": [1,1.2,1.4,1.6,1.8,2,2.2,2.4,2.6,2.8,3,3.2,3.4,3.6,3.8,4,4.2,4.4,4.6,4.8,5], "format": ".0f",
                "labelExpr": "datum.value % 1 == 0 ? datum.label : ''",
                "tickSize": {"condition": {"test": "datum.value % 1 == 0", "value": -5}, "value": -3}}},
            "y": {"field": "y", "type": "quantitative", "scale": {"domain": [0.472, 1.013], "nice": false, "zero": false},
              "axis": {"title": "α²+β²+γ²+δ²", "titleAngle": 0, "titleX": -43, "titleY": -5, "titleAlign": "left", "titleBaseline": "middle", "titleFontStyle": "italic",
                "values": [0.48,0.5,0.52,0.54,0.56,0.58,0.6,0.62,0.64,0.66,0.68,0.7,0.72,0.74,0.76,0.78,0.8,0.82,0.84,0.86,0.88,0.9,0.92,0.94,0.96,0.98], "format": ".1f",
                "labelExpr": "abs(datum.value*10-round(datum.value*10)) < 0.000001 ? datum.label : ''",
                "tickSize": {"condition": {"test": "abs(datum.value*10-round(datum.value*10)) < 0.000001", "value": -5}, "value": -3}}},
            "color": {"field": "v", "type": "nominal", "scale": {"domain": ["v=0.3","v=0.4","v=0.5","v=0.6"], "range": ["#E19C24","#8FB032","#EB6235","#8778B3"]}, "legend": {"title": null}}
          },
          "layer": [
            {"mark": {"type": "line", "strokeWidth": 1.4}},
            {"mark": {"type": "point", "filled": true, "size": 27, "opacity": 1},
              "encoding": {"shape": {"field": "v", "type": "nominal", "scale": {"domain": ["v=0.3","v=0.4","v=0.5","v=0.6"], "range": ["square","diamond","triangle-up","triangle-down"]}, "legend": {"title": null}}}}
          ]
        }
      ]
    }
  ],
  "resolve": {"scale": {"x": "independent", "y": "independent", "color": "shared", "shape": "shared"}},
  "config": {
    "font": "DejaVu Sans",
    "view": {"stroke": null},
    "axis": {
      "grid": false,
      "domainColor": "#a0a0a0",
      "tickColor": "#a0a0a0",
      "labelColor": "#666666",
      "labelFont": "DejaVu Sans",
      "labelFontSize": 10.5,
      "titleFont": "DejaVu Sans",
      "titleFontWeight": "normal",
      "titleColor": "#505050",
      "titleFontSize": 11
    },
    "axisX": {"labelPadding": 12, "titleFontSize": 12.5, "titleColor": "#606060"},
    "axisY": {"labelPadding": 9},
    "title": {"fontSize": 14, "fontWeight": "normal", "color": "#606060", "font": "DejaVu Sans"},
    "legend": {"orient": "none", "legendX": 646, "legendY": 229, "labelFontSize": 11, "labelColor": "#404040", "symbolSize": 30, "rowPadding": 8, "labelOffset": 6}
  }
}
